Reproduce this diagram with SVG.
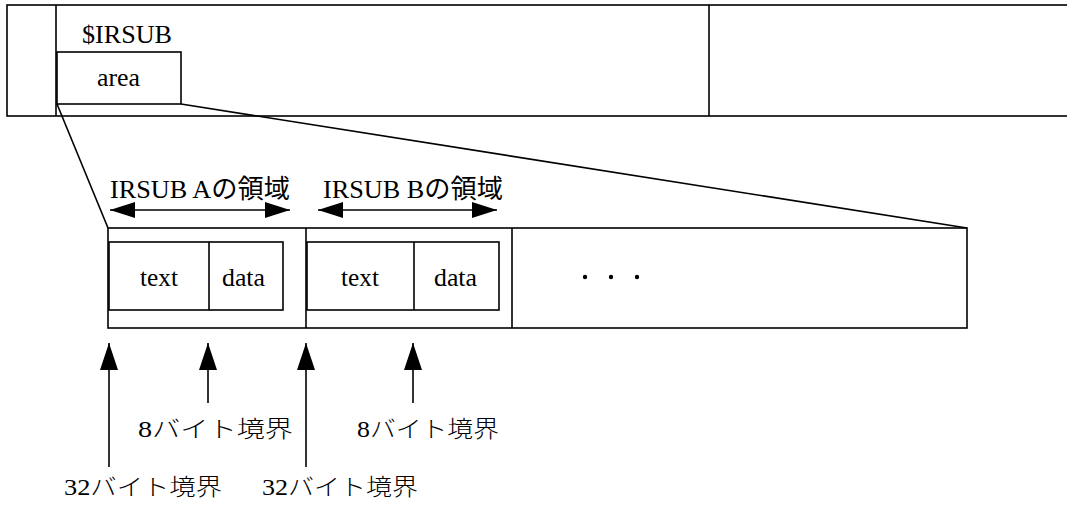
<svg xmlns="http://www.w3.org/2000/svg" width="1067" height="508" viewBox="0 0 1067 508">
<style>
.box{fill:none;stroke:#000;stroke-width:1.6}
.ln{fill:none;stroke:#000;stroke-width:1.6}
.t{font-family:"Liberation Serif","Noto Sans CJK JP",serif;font-size:26px;fill:#000}
.j{font-family:"Liberation Serif","Noto Sans CJK JP",serif;font-size:23px;font-weight:300;fill:#000}
</style>
<defs>
<marker id="ah" viewBox="0 0 25 16" refX="25" refY="8" markerWidth="25" markerHeight="16" orient="auto-start-reverse" markerUnits="userSpaceOnUse">
<path d="M0,0 L25,8 L0,16 z" fill="#000"/>
</marker>
<marker id="au" viewBox="0 0 27 18" refX="27" refY="9" markerWidth="27" markerHeight="18" orient="auto" markerUnits="userSpaceOnUse">
<path d="M0,0 L27,9 L0,18 z" fill="#000"/>
</marker>
</defs>
<rect width="1067" height="508" fill="#fff"/>

<g id="top-bar">
<rect class="box" x="7" y="5" width="1070" height="111"/>
<line class="ln" x1="56" y1="5" x2="56" y2="116"/>
<line class="ln" x1="709" y1="5" x2="709" y2="116"/>
<text class="t" x="82" y="43" textLength="90" lengthAdjust="spacingAndGlyphs">$IRSUB</text>
</g>
<g id="area">
<rect class="box" x="57" y="52" width="124" height="52"/>
<text class="t" x="97" y="86" textLength="43" lengthAdjust="spacingAndGlyphs">area</text>
</g>

<g id="region-box">
<rect class="box" x="108" y="228" width="859" height="100"/>
<line class="ln" x1="306" y1="228" x2="306" y2="328"/>
<line class="ln" x1="512" y1="228" x2="512" y2="328"/>
<circle cx="585" cy="277" r="2.2" fill="#000"/>
<circle cx="611" cy="277" r="2.2" fill="#000"/>
<circle cx="637" cy="277" r="2.2" fill="#000"/>
</g>
<g id="irsub-a">
<rect class="box" x="109" y="242" width="174" height="68"/>
<line class="ln" x1="209" y1="242" x2="209" y2="310"/>
<text class="t" x="140" y="286" textLength="38" lengthAdjust="spacingAndGlyphs">text</text>
<text class="t" x="222" y="286" textLength="43" lengthAdjust="spacingAndGlyphs">data</text>
<text class="t" x="110" y="198" textLength="180" lengthAdjust="spacingAndGlyphs">IRSUB Aの領域</text>
</g>
<g id="irsub-b">
<rect class="box" x="307" y="242" width="192" height="68"/>
<line class="ln" x1="414" y1="242" x2="414" y2="310"/>
<text class="t" x="341" y="286" textLength="38" lengthAdjust="spacingAndGlyphs">text</text>
<text class="t" x="434" y="286" textLength="43" lengthAdjust="spacingAndGlyphs">data</text>
<text class="t" x="323" y="198" textLength="180" lengthAdjust="spacingAndGlyphs">IRSUB Bの領域</text>
</g>

<g id="labels">
<text class="j" x="138" y="437" textLength="155" lengthAdjust="spacingAndGlyphs">8バイト境界</text>
<text class="j" x="357" y="437" textLength="142" lengthAdjust="spacingAndGlyphs">8バイト境界</text>
<text class="j" x="64" y="495" textLength="158" lengthAdjust="spacingAndGlyphs">32バイト境界</text>
<text class="j" x="262" y="495" textLength="156" lengthAdjust="spacingAndGlyphs">32バイト境界</text>
</g>

<g id="connectors">
<line class="ln" x1="57" y1="104" x2="108" y2="228"/>
<line class="ln" x1="181" y1="104" x2="967" y2="228"/>
<line class="ln" x1="110" y1="210" x2="290" y2="210" marker-start="url(#ah)" marker-end="url(#ah)"/>
<line class="ln" x1="318" y1="210" x2="497" y2="210" marker-start="url(#ah)" marker-end="url(#ah)"/>
<line class="ln" x1="109" y1="467" x2="109" y2="343" marker-end="url(#au)"/>
<line class="ln" x1="208" y1="403" x2="208" y2="343" marker-end="url(#au)"/>
<line class="ln" x1="306" y1="467" x2="306" y2="343" marker-end="url(#au)"/>
<line class="ln" x1="413" y1="403" x2="413" y2="343" marker-end="url(#au)"/>
</g>
</svg>
